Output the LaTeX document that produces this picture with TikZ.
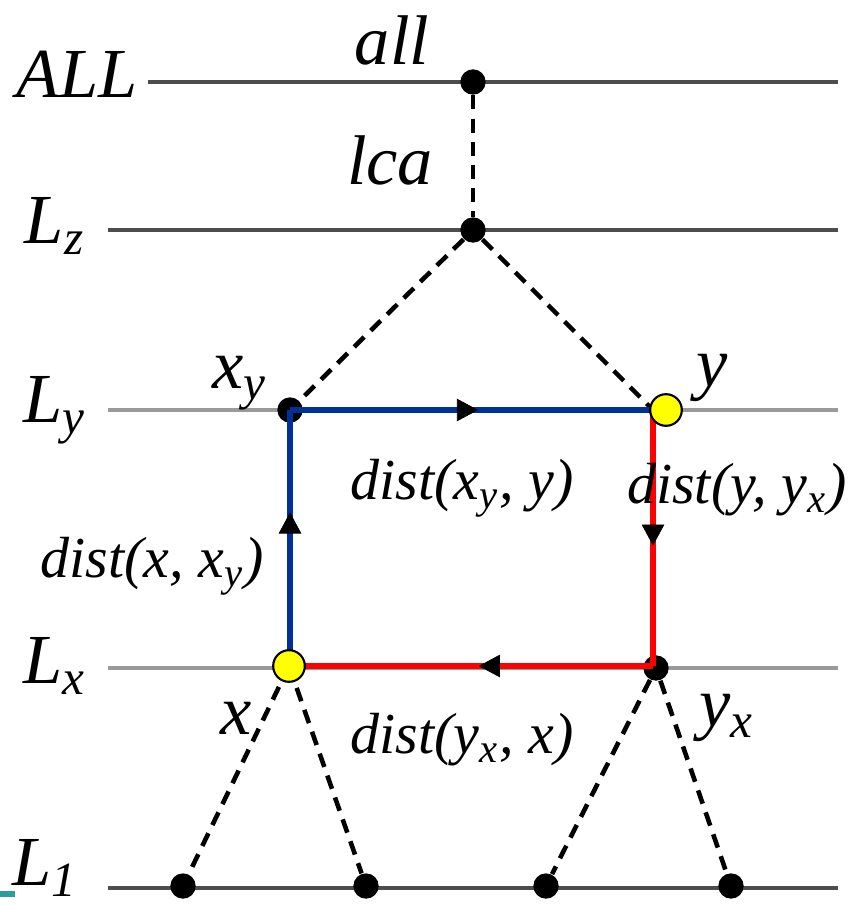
\documentclass[tikz,border=0pt]{standalone}
\usepackage{fontspec}
\setmainfont{Liberation Serif}
\usetikzlibrary{arrows.meta,decorations.markings}
\definecolor{lvldark}{HTML}{4D4D4D}
\definecolor{lvllight}{HTML}{9A9A9A}
\definecolor{pathblue}{HTML}{00309A}
\definecolor{pathred}{HTML}{FF0000}
\definecolor{dotyellow}{HTML}{FFFF00}
\definecolor{edgeteal}{HTML}{2A9D9F}
\tikzset{
  lvl/.style={line width=1pt, color=lvldark},
  lvl2/.style={line width=1.3pt, color=lvllight},
  lvlname/.style={font=\fontsize{20}{22}\selectfont\itshape, inner sep=0pt},
  nm/.style={font=\fontsize{20}{22}\selectfont\itshape, inner sep=0pt},
  dl/.style={font=\fontsize{16.5}{18}\selectfont\itshape, inner sep=0pt},
  pt/.style={circle, fill=black, minimum size=7.2pt, inner sep=0pt},
  hl/.style={circle, draw=black, line width=0.6pt, fill=dotyellow, minimum size=9pt, inner sep=0pt},
  tr/.style={line width=1.3pt, dash pattern=on 4pt off 2.6pt, color=black},
  hop/.style={line width=1.7pt, postaction={decorate}, decoration={markings,
    mark=at position #1 with {\arrow[black, line width=0.2pt]{Triangle[length=6pt, width=6.4pt]}}}},
}
\begin{document}
\begin{tikzpicture}[x=0.01cm, y=-0.01cm]
    \useasboundingbox (0,0) rectangle (856,906);
    % levels
    \node[lvlname] (nall) at (77,74) {ALL};
    \node[lvlname] (nz) at (55,226) {L\textsubscript{z}};
    \node[lvlname] (ny) at (55,410) {L\textsubscript{y}};
    \node[lvlname] (nx) at (55,666) {L\textsubscript{x}};
    \node[lvlname] (n1) at (45,868) {L\textsubscript{1}};
    \coordinate (eall) at (838,82); \coordinate (ez) at (838,230);
    \coordinate (ey) at (838,410); \coordinate (ex) at (838,668);
    \coordinate (e1) at (838,888);
    \draw[lvl] (148,82) -- (eall);
    \draw[lvl] (108,230) -- (ez);
    \draw[lvl2] (108,410) -- (ey);
    \draw[lvl2] (108,668) -- (ex);
    \draw[lvl] (108,888) -- (e1);
    \coordinate (t0) at (0,894); \coordinate (t1) at (15,894);
    \draw[edgeteal, line width=1.7pt] (t0) -- (t1);
    % tree nodes
    \node[pt] (all) at (473,82) {};
    \node[pt] (lca) at (473,230) {};
    \node[pt] (xy) at (290,410) {};
    \node[pt] (yx) at (656,668) {};
    \node[pt] (b1) at (183,886) {};
    \node[pt] (b2) at (366,886) {};
    \node[pt] (b3) at (546,886) {};
    \node[pt] (b4) at (731,886) {};
    \draw[tr] (all) -- (lca);
    \draw[tr] (lca) -- (xy);
    \draw[tr] (lca) -- (653,410);
    \draw[tr] (289,666) -- (b1);
    \draw[tr] (289,666) -- (b2);
    \draw[tr] (yx) -- (b3);
    \draw[tr] (yx) -- (b4);
    % paths
    \coordinate (xc) at (290,666);
    \coordinate (yc) at (653,410);
    \coordinate (yr) at (653,666);
    \draw[pathblue, hop=0.6] (xc) -- (xy.center);
    \draw[pathblue, hop=0.5] (290,410) -- (666,410);
    \draw[pathred, hop=0.53] (yc) -- (yr);
    \draw[pathred, hop=0.48] (yr) -- (xc);
    \node[hl] (x) at (289,666) {};
    \node[hl] (y) at (666,410) {};
    % labels
    \node[nm] (lall) at (392,40) {all};
    \node[nm] (llca) at (390,160) {lca};
    \node[nm] (lxy) at (240,383) {x\textsubscript{y}};
    \node[nm] (ly) at (712,378) {y};
    \node[nm] (lx) at (236,718) {x};
    \node[nm] (lyx) at (727,718) {y\textsubscript{x}};
    \node[dl] (d1) at (462,488) {dist(x\textsubscript{y}, y)};
    \node[dl] (d2) at (737,490) {dist(y, y\textsubscript{x})};
    \node[dl] (d3) at (152,566) {dist(x, x\textsubscript{y})};
    \node[dl] (d4) at (462,740) {dist(y\textsubscript{x}, x)};
  \end{tikzpicture}
\end{document}
